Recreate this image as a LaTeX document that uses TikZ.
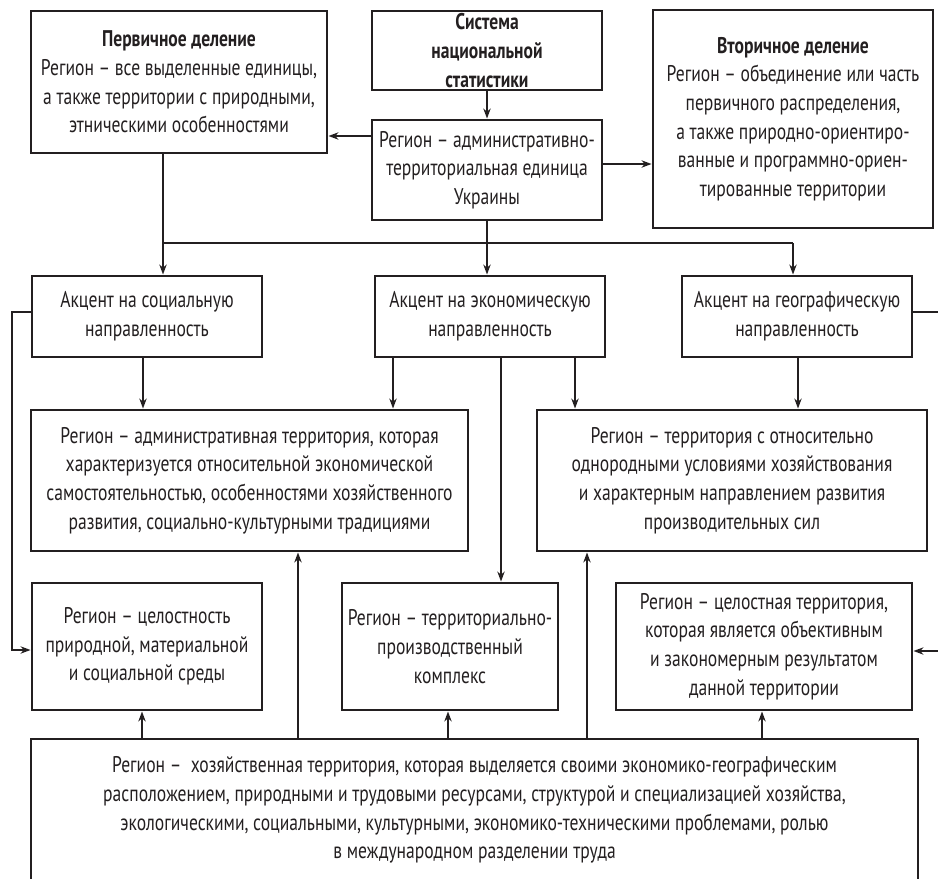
\documentclass[tikz,border=0pt]{standalone}
\usepackage{fontspec}
\setmainfont[FakeStretch=0.775]{PT Sans}
\usetikzlibrary{arrows.meta}
\definecolor{ink}{HTML}{231F20}
\tikzset{
  bx/.style 2 args={draw=ink, line width=2.2pt, inner sep=0pt, align=center, text=ink,
    minimum width=#1*0.75pt, minimum height=#2*0.75pt,
    font=\fontsize{17pt}{21.5pt}\selectfont},
  arr/.style={draw=ink, line width=1.4pt, -{Stealth[length=7.5pt,width=5.5pt]}},
  ln/.style={draw=ink, line width=1.4pt},
}
\begin{document}
\begin{tikzpicture}[x=0.75pt,y=-0.75pt]
\useasboundingbox (0,0) rectangle (938,878);
\clip (0,0) rectangle (938,878);
% top row
\node[bx={296}{142}] (prim) at (179,82) {\textbf{Первичное деление}\\Регион – все выделенные единицы,\\а также территории с природными,\\этническими особенностями};
\node[bx={230}{79}, font=\fontsize{17pt}{21.5pt}\selectfont\bfseries] (sys) at (487,50.5) {Система\\национальной\\статистики};
\node[bx={230}{100}] (admin) at (487,170) {Регион – административно-\\территориальная единица\\Украины};
\node[bx={280}{218}] (sec) at (793,119) {\textbf{Вторичное деление}\\Регион – объединение или часть\\первичного распределения,\\а также природно-ориентиро-\\ванные и программно-ориен-\\тированные территории};
% accent row
\node[bx={230}{81}] (soc) at (147,316.5) {Акцент на социальную\\направленность};
\node[bx={230}{81}] (eco) at (490,316.5) {Акцент на экономическую\\направленность};
\node[bx={230}{81}] (geo) at (797,316.5) {Акцент на географическую\\направленность};
% middle row
\node[bx={437}{141}] (adm2) at (249.5,480.5) {Регион – административная территория, которая\\характеризуется относительной экономической\\самостоятельностью, особенностями хозяйственного\\развития, социально-культурными традициями};
\node[bx={390}{141}] (terr) at (732,480.5) {Регион – территория с относительно\\однородными условиями хозяйствования\\и характерным направлением развития\\производительных сил};
% lower row
\node[bx={230}{127}] (integ) at (147,646.5) {Регион – целостность\\природной, материальной\\и социальной среды};
\node[bx={216}{127}] (tpk) at (450,646.5) {Регион – территориально-\\производственный\\комплекс};
\node[bx={296}{127}] (whole) at (764,646.5) {Регион – целостная территория,\\которая является объективным\\и закономерным результатом\\данной территории};
% bottom
\node[bx={887}{142}] (big) at (474.5,810) {Регион –\ \ хозяйственная территория, которая выделяется своими экономико-географическим\\расположением, природными и трудовыми ресурсами, структурой и специализацией хозяйства,\\экологическими, социальными, культурными, экономико-техническими проблемами, ролью\\в международном разделении труда};
% connectors top
\draw[arr] (sys.south) -- (admin.north);
\draw[arr] (admin.west |- 0,136) -- (prim.east |- 0,136);
\draw[arr] (admin.east |- 0,164) -- (sec.west |- 0,164);
\draw[arr] (prim.south -| 163,0) -- (soc.north -| 163,0);
\draw[arr] (admin.south) -- (eco.north -| admin.south);
\coordinate (jl) at (163,243);
\coordinate (jr) at (793,243);
\draw[ln] (jl) -- (jr);
\draw[arr] (jr) -- (geo.north -| jr);
% side loops
\coordinate (lt) at (12,312);
\coordinate (lb) at (12,650);
\draw[arr] (soc.west |- lt) -- (lt) -- (lb) -- (integ.west |- lb);
\coordinate (rt) at (946,312);
\coordinate (rb) at (946,651);
\draw[ln] (geo.east |- rt) -- (rt) -- (rb);
\draw[arr] (rb) -- (whole.east |- rb);
% accent to middle
\draw[arr] (soc.south -| 143,0) -- (adm2.north -| 143,0);
\draw[arr] (eco.south -| 393,0) -- (adm2.north -| 393,0);
\draw[arr] (eco.south -| 501,0) -- (tpk.north -| 501,0);
\draw[arr] (eco.south -| 575,0) -- (terr.north -| 575,0);
\draw[arr] (geo.south -| 798,0) -- (terr.north -| 798,0);
% bottom up
\draw[arr] (big.north -| 142,0) -- (integ.south -| 142,0);
\draw[arr] (big.north -| 298,0) -- (adm2.south -| 298,0);
\draw[arr] (big.north -| 448,0) -- (tpk.south -| 448,0);
\draw[arr] (big.north -| 587,0) -- (terr.south -| 587,0);
\draw[arr] (big.north -| 762,0) -- (whole.south -| 762,0);
\end{tikzpicture}
\end{document}
